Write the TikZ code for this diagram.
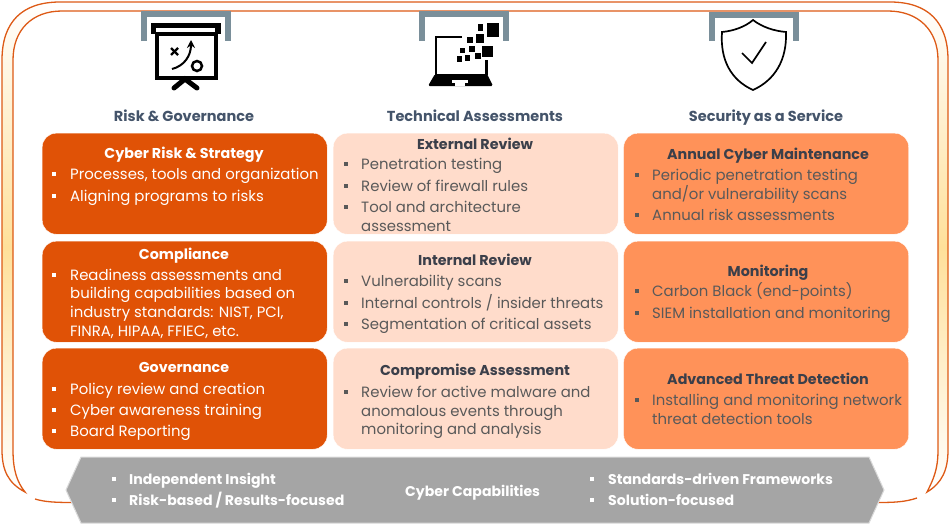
\documentclass[tikz,border=0pt]{standalone}
\usepackage{fontspec}
\setmainfont{Poppins}
\usetikzlibrary{arrows.meta}

\definecolor{framered}{HTML}{DD5A16}
\definecolor{bandgold}{HTML}{FFE09A}
\definecolor{bracketgray}{HTML}{7A8F9A}
\definecolor{slate}{HTML}{44546A}
\definecolor{darkcard}{HTML}{E05206}
\definecolor{palecard}{HTML}{FFDCCB}
\definecolor{midcard}{HTML}{FF9259}
\definecolor{bannergray}{HTML}{A5A5A5}
\definecolor{inktitle}{HTML}{3B3F4A}
\definecolor{inkitem}{HTML}{595959}

\tikzset{
  card/.style={rounded corners=14pt, minimum width=285pt, minimum height=101pt, inner sep=0pt, draw=white, anchor=north west},
  cardtitle/.style={font=\fontsize{14.3}{16}\selectfont\bfseries, inner sep=0pt, text height=12pt, text depth=1pt},
  carditem/.style={font=\fontsize{14.9}{16}\selectfont, inner sep=0pt, anchor=west, text height=12pt, text depth=1pt},
  itembullet/.style={rectangle, minimum size=4pt, inner sep=0pt},
  heading/.style={font=\fontsize{14.5}{16}\selectfont\bfseries, text=slate, inner sep=0pt, text height=12pt, text depth=1pt},
  bannertext/.style={font=\fontsize{14.1}{16}\selectfont\bfseries, text=white, inner sep=0pt, anchor=west, text height=12pt, text depth=1pt},
  bracket/.style={draw=bracketgray, line width=6pt}
}

\begin{document}
\begin{tikzpicture}[x=1pt, y=-1pt]
  \useasboundingbox (0,0) rectangle (950,525);

  % Double frame with the shaded band between its two lines
  \path[draw=framered, line width=1.3pt, top color=white, bottom color=white, middle color=bandgold]
    (25,492) .. controls (8,483) and (2,470) .. (2,450) -- (2,60)
    .. controls (2,22) and (22,2) .. (60,2) -- (890,2)
    .. controls (928,2) and (948,22) .. (948,60) -- (948,450)
    .. controls (948,470) and (942,483) .. (927,492)
    .. controls (933,480) and (938,470) .. (938,450) -- (938,60)
    .. controls (938,30) and (918,11) .. (888,11) -- (62,11)
    .. controls (32,11) and (13,30) .. (13,60) -- (13,450)
    .. controls (13,470) and (17,482) .. cycle;

  % Bottom pieces of the frame, running into the banner
  \coordinate (frameleft)  at (35,499);
  \coordinate (frameright) at (917,498);
  \draw[framered, line width=1.3pt] (frameleft) .. controls (45,502) and (55,502.5) .. (74,502.5);
  \draw[framered, line width=1.3pt] (frameright) .. controls (905,502) and (895,502.5) .. (876,502.5);

  % Brackets above the three icons
  \draw[bracket] (144,41) -- (144,14) -- (228,14) -- (228,41);
  \draw[bracket] (422,41) -- (422,14) -- (506,14) -- (506,41);
  \draw[bracket] (712,41) -- (712,15) -- (796,15) -- (796,41);

  % Projector icon
  \fill[white] (151,23) rectangle (221,80);
  \fill[black] (151,23) rectangle (221,34);
  \fill[white] (156,28) rectangle (215,33);
  \draw[black, line width=4pt] (156.5,34) rectangle (215.5,77.5);
  \draw[black, line width=5pt, line cap=round] (174,88) -- (185,79) -- (197,88);
  \draw[black, line width=2.4pt] (171,48) -- (178,55);
  \draw[black, line width=2.4pt] (178,48) -- (171,55);
  \draw[black, line width=2pt, -{Stealth[length=8pt, width=8pt]}] (172,69) .. controls (184,66) and (191,56) .. (191,40);
  \draw[black, line width=2.5pt] (197,66) circle (5);

  % Laptop icon
  \draw[black, line width=2pt] (462,37) -- (436,37) -- (436,75);
  \fill[black] (485,60) rectangle (487.5,75);
  \fill[black, rounded corners=1.5pt] (435,74) -- (487,74) -- (493,86) -- (428,86) -- cycle;
  \fill[white] (452,80) rectangle (468,83);
  \fill[white] (455,83) rectangle (465,86);
  \foreach \xa/\ya/\xb/\yb in {487/23/499/37, 478/24/483/31, 476/34/484/43, 467/37/473/43, 482/46/493/57,
                               469/46/475/52, 460/48/465/53, 475/53/481/59, 465/55/470/61, 457/56/462/62}
    \fill[black] (\xa,\ya) rectangle (\xb,\yb);

  % Shield icon
  \draw[black, line width=1.7pt, fill=white] (753,20) .. controls (762,27) and (774,31) .. (786,32)
    .. controls (787,60) and (775,80) .. (753,90)
    .. controls (731,80) and (720,60) .. (722,32)
    .. controls (733,31) and (745,27) .. cycle;
  \draw[black, line width=1.7pt] (742,53) -- (752,63) -- (766,42);

  % Column headings
  \node[heading] (riskhead) at (184,116) {Risk \& Governance};
  \node[heading] (techhead) at (475,116) {Technical Assessments};
  \node[heading] (servhead) at (766,116) {Security as a Service};

  % Cards, row by row
  \node[card, fill=darkcard] (strategy)   at (42,133) {};
  \node[card, fill=palecard] (external)   at (333,133) {};
  \node[card, fill=midcard]  (maintain)   at (623.5,133) {};
  \node[card, fill=darkcard] (compliance) at (42,241) {};
  \node[card, fill=palecard] (internal)   at (333,241) {};
  \node[card, fill=midcard]  (monitoring) at (623.5,241) {};
  \node[card, fill=darkcard] (governance) at (42,348) {};
  \node[card, fill=palecard] (compromise) at (333,348) {};
  \node[card, fill=midcard]  (threat)     at (623.5,348) {};

  % First column
  \node[cardtitle, text=white] (strategytitle) at (184,153) {Cyber Risk \& Strategy};
  \foreach \ypos/\txt [count=\i] in {174/{Processes, tools and organization}, 196/{Aligning programs to risks}}
    \node[carditem, text=white] (strategyitem\i) at (70,\ypos) {\txt};
  \node[cardtitle, text=white] (compliancetitle) at (184,254) {Compliance};
  \foreach \ypos/\txt [count=\i] in {275/{Readiness assessments and}, 293/{building capabilities based on},
                                     312/{industry standards: NIST, PCI,}, 331/{FINRA, HIPAA, FFIEC, etc.}}
    \node[carditem, text=white] (complianceitem\i) at (70,\ypos) {\txt};
  \node[cardtitle, text=white] (governancetitle) at (184,367) {Governance};
  \foreach \ypos/\txt [count=\i] in {389/{Policy review and creation}, 410/{Cyber awareness training}, 431/{Board Reporting}}
    \node[carditem, text=white] (governanceitem\i) at (70,\ypos) {\txt};
  \foreach \ypos in {174,196,275,389,410,431}
    \node[itembullet, fill=white] (riskdot\ypos) at (54,\ypos) {};

  % Second column
  \node[cardtitle, text=inktitle] (externaltitle) at (475,144) {External Review};
  \foreach \ypos/\txt [count=\i] in {164/{Penetration testing}, 186/{Review of firewall rules},
                                     207/{Tool and architecture}, 226/{assessment}}
    \node[carditem, text=inkitem] (externalitem\i) at (361,\ypos) {\txt};
  \node[cardtitle, text=inktitle] (internaltitle) at (475,260) {Internal Review};
  \foreach \ypos/\txt [count=\i] in {281/{Vulnerability scans}, 303/{Internal controls / insider threats},
                                     324/{Segmentation of critical assets}}
    \node[carditem, text=inkitem] (internalitem\i) at (361,\ypos) {\txt};
  \node[cardtitle, text=inktitle] (compromisetitle) at (475,370) {Compromise Assessment};
  \foreach \ypos/\txt [count=\i] in {392/{Review for active malware and}, 411/{anomalous events through},
                                     429/{monitoring and analysis}}
    \node[carditem, text=inkitem] (compromiseitem\i) at (361,\ypos) {\txt};
  \foreach \ypos in {164,186,207,281,303,324,392}
    \node[itembullet, fill=inkitem] (techdot\ypos) at (346,\ypos) {};

  % Third column
  \node[cardtitle, text=inktitle] (maintaintitle) at (768,154) {Annual Cyber Maintenance};
  \foreach \ypos/\txt [count=\i] in {175/{Periodic penetration testing}, 194/{and/or vulnerability scans},
                                     215/{Annual risk assessments}}
    \node[carditem, text=inkitem] (maintainitem\i) at (652,\ypos) {\txt};
  \node[cardtitle, text=inktitle] (monitoringtitle) at (768,271) {Monitoring};
  \foreach \ypos/\txt [count=\i] in {291/{Carbon Black (end-points)}, 313/{SIEM installation and monitoring}}
    \node[carditem, text=inkitem] (monitoringitem\i) at (652,\ypos) {\txt};
  \node[cardtitle, text=inktitle] (threattitle) at (768,379) {Advanced Threat Detection};
  \foreach \ypos/\txt [count=\i] in {400/{Installing and monitoring network}, 419/{threat detection tools}}
    \node[carditem, text=inkitem] (threatitem\i) at (652,\ypos) {\txt};
  \foreach \ypos in {175,215,291,313,400}
    \node[itembullet, fill=inkitem] (servdot\ypos) at (637,\ypos) {};

  % Banner along the bottom
  \fill[bannergray, draw=black!15, line width=1pt] (66,490) -- (81,457) -- (869,457) -- (884,490) -- (869,523) -- (81,523) -- cycle;
  \node[bannertext] (insight) at (129,479) {Independent Insight};
  \node[bannertext] (results) at (129,500) {Risk-based / Results-focused};
  \node[bannertext] (capabilities) at (405,491) {Cyber Capabilities};
  \node[bannertext] (standards) at (608,479) {Standards-driven Frameworks};
  \node[bannertext] (solution) at (608,500) {Solution-focused};
  \foreach \xpos/\ypos in {114/479, 114/500, 592/479, 592/500}
    \node[itembullet, fill=white] (bannerdot\xpos\ypos) at (\xpos,\ypos) {};
\end{tikzpicture}
\end{document}
